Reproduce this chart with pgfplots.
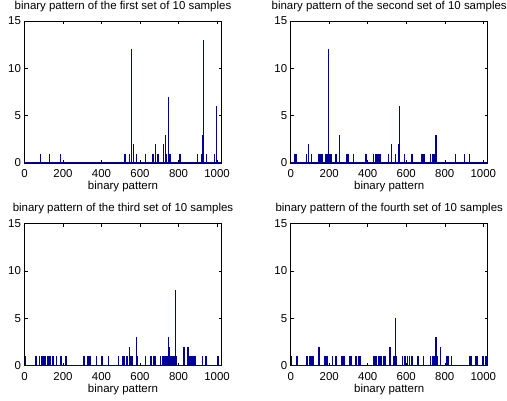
\documentclass[border=0pt]{standalone}
\usepackage{pgfplots}
\pgfplotsset{compat=1.18}
\usepackage{pgfplotstable}
\usepackage{fontspec}
\setmainfont{Liberation Sans}
\definecolor{mblue}{rgb}{0,0,0.6}

\pgfplotstableread{
x y
83 1
129 1
186 1
521 1
525 1
545 1
556 12
564 2
568 2
581 1
629 1
667 1
671 1
681 2
693 1
721 2
731 3
738 1
747 7
754 1
759 1
807 1
812 1
900 1
921 1
927 3
930 13
945 1
985 1
995 6
998 6
}\dataA

\pgfplotstableread{
x y
19 1
23 1
27 1
84 1
91 2
110 1
143 1
148 1
153 1
158 1
165 1
181 1
186 1
190 1
195 12
200 1
204 1
208 1
213 1
235 1
252 3
292 1
298 1
327 1
388 1
393 1
431 1
440 1
448 1
456 1
464 1
506 1
524 2
543 1
560 2
567 6
589 1
626 1
632 1
678 1
683 1
688 1
693 1
728 1
736 1
744 1
754 3
759 1
854 1
903 1
929 1
}\dataB

\pgfplotstableread{
x y
0 1
5 1
60 1
78 1
90 1
96 1
104 1
110 1
122 1
127 1
132 1
146 1
152 1
166 1
190 1
216 1
306 1
312 1
328 1
334 1
340 1
374 1
400 1
405 1
436 1
490 1
512 1
520 1
528 1
536 1
545 2
552 1
558 1
583 3
588 1
627 1
657 1
672 1
677 1
682 1
708 1
715 1
722 1
730 1
737 1
741 1
747 3
752 2
760 1
766 1
771 1
777 1
785 8
790 1
825 2
830 2
845 2
849 2
856 1
861 1
866 1
872 1
877 1
882 1
888 1
926 1
943 1
1002 1
1006 1
1009 1
}\dataC

\pgfplotstableread{
x y
5 1
31 1
36 1
83 1
88 1
100 1
106 1
112 1
118 1
147 2
178 1
183 1
190 1
218 1
235 1
265 1
270 1
277 1
304 1
310 1
317 1
336 1
342 1
354 1
360 1
433 1
440 1
446 1
458 1
465 1
473 1
481 1
490 1
512 2
516 2
533 1
538 1
545 5
550 1
581 1
590 1
598 1
606 1
618 1
626 1
633 1
661 1
690 1
726 1
735 1
741 1
746 1
754 3
760 1
776 2
811 1
817 1
835 1
927 1
932 1
939 1
962 1
972 1
995 1
1003 1
1010 1
1016 1
1021 1
}\dataD

\pgfplotsset{hist/.style={
  scale only axis, width=197bp, height=142bp,
  anchor=south west,
  xmin=0, xmax=1023, ymin=0, ymax=15,
  xtick={0,200,400,600,800,1000}, ytick={0,5,10,15},
  tick pos=both, tick align=inside, major tick length=3bp,
  axis line style={line width=0.6bp},
  every tick/.style={black, line width=0.5bp},
  /pgf/number format/assume math mode=true,
  /pgf/number format/1000 sep={},
  ticklabel style={font=\fontsize{11.5}{13}\selectfont},
  xticklabel style={anchor=base, yshift=-15bp},
  xlabel={binary pattern},
  xlabel style={at={(axis description cs:0.5,0)}, anchor=base, yshift=-27bp, font=\fontsize{11.5}{13}\selectfont},
  title style={at={(axis description cs:0.5,1)}, anchor=base, yshift=6bp, font=\fontsize{11.5}{13}\selectfont},
}}

\begin{document}
\begin{tikzpicture}
\path[use as bounding box] (0,0) rectangle (507bp,401bp);

\begin{axis}[hist, at={(24.5bp,238bp)}, title={binary pattern of the first set of 10 samples}]
\addplot[mblue, line width=1.2bp] coordinates {(0,0) (1023,0)};
\addplot[mblue, line width=1.2bp, ycomb, no marks] table[x=x,y=y] {\dataA};
\end{axis}

\begin{axis}[hist, at={(290.7bp,238bp)}, title={binary pattern of the second set of 10 samples}]
\addplot[mblue, line width=1.2bp] coordinates {(0,0) (1023,0)};
\addplot[mblue, line width=1.2bp, ycomb, no marks] table[x=x,y=y] {\dataB};
\end{axis}

\begin{axis}[hist, at={(24.5bp,35.3bp)}, title={binary pattern of the third set of 10 samples}]
\addplot[mblue, line width=1.2bp] coordinates {(0,0) (1023,0)};
\addplot[mblue, line width=1.2bp, ycomb, no marks] table[x=x,y=y] {\dataC};
\end{axis}

\begin{axis}[hist, at={(290.7bp,35.3bp)}, title={binary pattern of the fourth set of 10 samples}]
\addplot[mblue, line width=1.2bp] coordinates {(0,0) (1023,0)};
\addplot[mblue, line width=1.2bp, ycomb, no marks] table[x=x,y=y] {\dataD};
\end{axis}
\end{tikzpicture}
\end{document}
